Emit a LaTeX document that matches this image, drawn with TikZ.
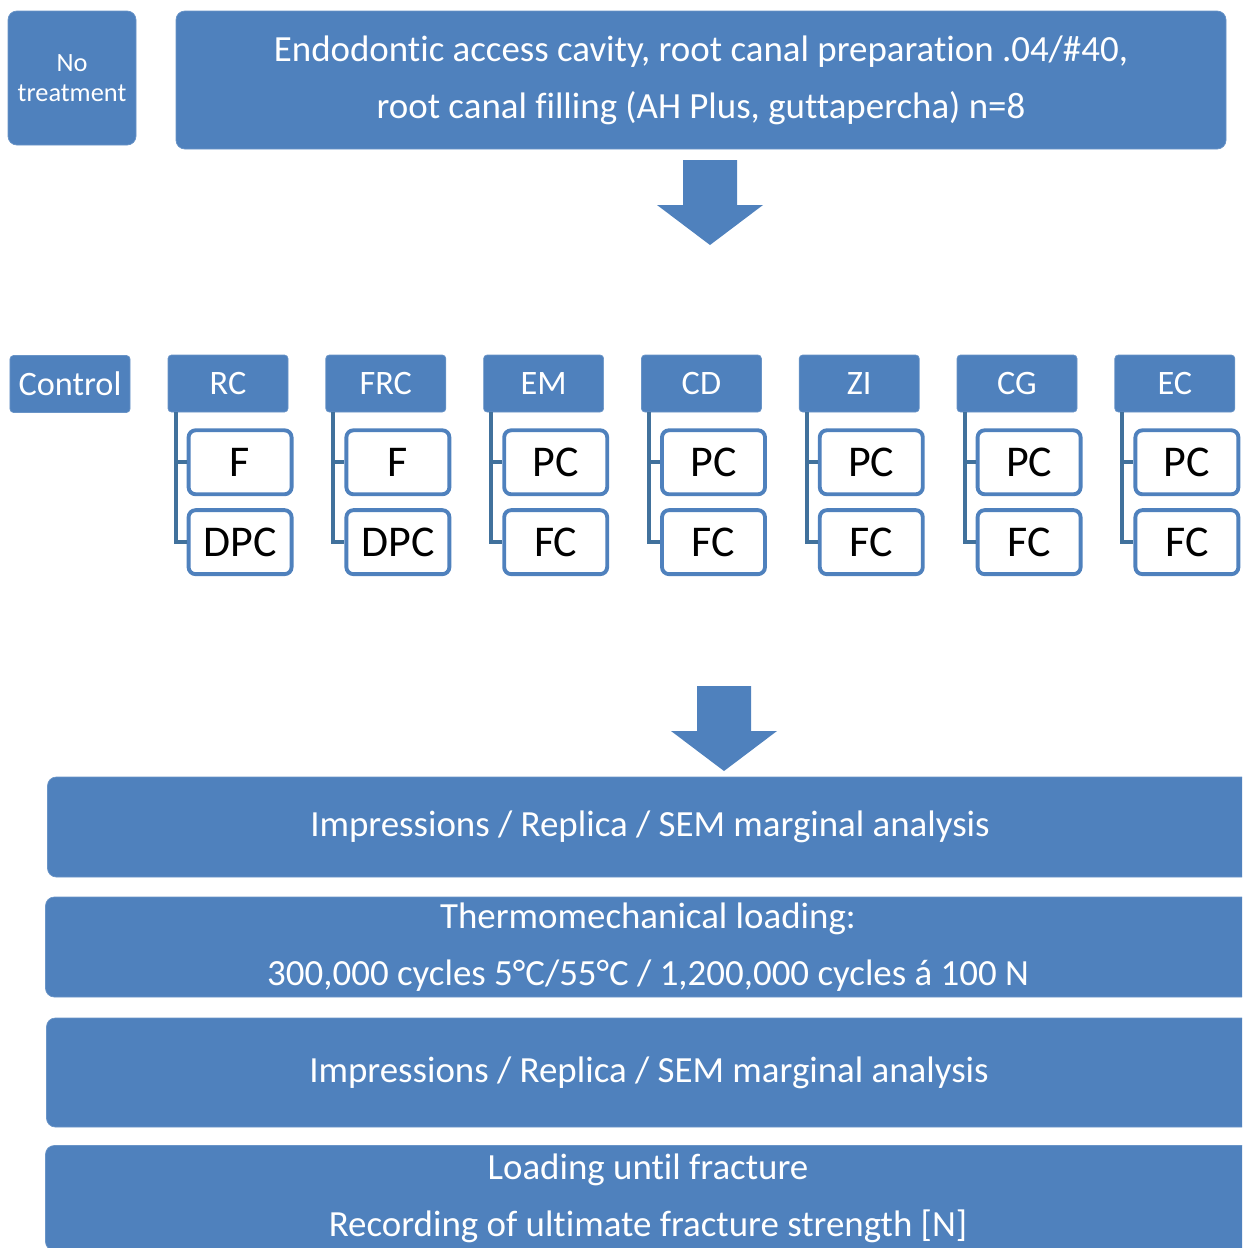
\documentclass[tikz,border=0pt]{standalone}
\usepackage{fontspec}
\setmainfont[Ligatures=NoCommon]{Carlito}
\usetikzlibrary{calc, positioning}
\definecolor{boxblue}{HTML}{4F81BD}
\definecolor{linkblue}{HTML}{41719C}

\begin{document}
\begin{tikzpicture}[
    bluebox/.style={rectangle, fill=boxblue, draw=boxblue!85!white, rounded corners=5pt, text=white, align=center, inner sep=0pt},
    groupbox/.style={bluebox, minimum width=2.4cm, minimum height=1.14cm, rounded corners=2pt, font=\fontsize{19.5}{23}\selectfont},
    subbox/.style={rectangle, draw=boxblue, line width=2.2pt, fill=white, rounded corners=4pt, minimum width=2.06cm, minimum height=1.28cm, inner sep=0pt, font=\fontsize{25}{30}\selectfont},
    stagebox/.style={bluebox, minimum width=24.1cm, font=\fontsize{21}{32.4}\selectfont},
    bracket/.style={draw=linkblue, line width=2.3pt},
    bigarrow/.style={fill=boxblue}
]
    \useasboundingbox (0,0) rectangle (24.84,-24.96);
    \clip (0,0) rectangle (24.84,-24.96);

    % Top row
    \node (notreat) [bluebox, minimum width=2.56cm, minimum height=2.68cm, font=\fontsize{15}{17}\selectfont] at (1.44,-1.56) {No\\treatment};
    \node (prep) [bluebox, minimum width=21.0cm, minimum height=2.76cm, font=\fontsize{21}{32.4}\selectfont] at (14.02,-1.60) {Endodontic access cavity, root canal preparation .04/\#40,\\root canal filling (AH Plus, guttapercha) n=8};

    % Arrow down
    \coordinate (arrowA) at (14.20,-3.20);
    \fill[bigarrow] (arrowA) ++(-0.54,0) -- ++(0,-0.90) -- ++(-0.52,0) -- ($(arrowA)+(0,-1.70)$) -- ++(1.06,0.80) -- ++(-0.52,0) -- ++(0,0.90) -- cycle;

    % Groups
    \node (control) [groupbox] at (1.40,-7.68) {Control};
    \node (rc) [groupbox] at (4.56,-7.67) {RC};
    \node (frc) [groupbox, right=0.742cm of rc] {FRC};
    \node (em) [groupbox, right=0.742cm of frc] {EM};
    \node (cd) [groupbox, right=0.742cm of em] {CD};
    \node (zi) [groupbox, right=0.742cm of cd] {ZI};
    \node (cg) [groupbox, right=0.742cm of zi] {CG};
    \node (ec) [groupbox, right=0.742cm of cg] {EC};

    % Subgroups
    \node (rcA) [subbox, below right=0.32cm and 0.38cm of rc.south west] {F};
    \node (rcB) [subbox, below=0.24cm of rcA] {DPC};
    \node (frcA) [subbox, below right=0.32cm and 0.38cm of frc.south west] {F};
    \node (frcB) [subbox, below=0.24cm of frcA] {DPC};
    \node (emA) [subbox, below right=0.32cm and 0.38cm of em.south west] {PC};
    \node (emB) [subbox, below=0.24cm of emA] {FC};
    \node (cdA) [subbox, below right=0.32cm and 0.38cm of cd.south west] {PC};
    \node (cdB) [subbox, below=0.24cm of cdA] {FC};
    \node (ziA) [subbox, below right=0.32cm and 0.38cm of zi.south west] {PC};
    \node (ziB) [subbox, below=0.24cm of ziA] {FC};
    \node (cgA) [subbox, below right=0.32cm and 0.38cm of cg.south west] {PC};
    \node (cgB) [subbox, below=0.24cm of cgA] {FC};
    \node (ecA) [subbox, below right=0.32cm and 0.38cm of ec.south west] {PC};
    \node (ecB) [subbox, below=0.24cm of ecA] {FC};

    % Brackets
    \draw[bracket] ([xshift=0.16cm, yshift=-0.04cm]rc.south west) |- (rcB.west);
    \draw[bracket] ([xshift=0.16cm]rc.south west) |- (rcA.west);
    \draw[bracket] ([xshift=0.16cm, yshift=-0.04cm]frc.south west) |- (frcB.west);
    \draw[bracket] ([xshift=0.16cm]frc.south west) |- (frcA.west);
    \draw[bracket] ([xshift=0.16cm, yshift=-0.04cm]em.south west) |- (emB.west);
    \draw[bracket] ([xshift=0.16cm]em.south west) |- (emA.west);
    \draw[bracket] ([xshift=0.16cm, yshift=-0.04cm]cd.south west) |- (cdB.west);
    \draw[bracket] ([xshift=0.16cm]cd.south west) |- (cdA.west);
    \draw[bracket] ([xshift=0.16cm, yshift=-0.04cm]zi.south west) |- (ziB.west);
    \draw[bracket] ([xshift=0.16cm]zi.south west) |- (ziA.west);
    \draw[bracket] ([xshift=0.16cm, yshift=-0.04cm]cg.south west) |- (cgB.west);
    \draw[bracket] ([xshift=0.16cm]cg.south west) |- (cgA.west);
    \draw[bracket] ([xshift=0.16cm, yshift=-0.04cm]ec.south west) |- (ecB.west);
    \draw[bracket] ([xshift=0.16cm]ec.south west) |- (ecA.west);

    % Arrow down
    \coordinate (arrowB) at (14.48,-13.72);
    \fill[bigarrow] (arrowB) ++(-0.54,0) -- ++(0,-0.90) -- ++(-0.52,0) -- ($(arrowB)+(0,-1.70)$) -- ++(1.06,0.80) -- ++(-0.52,0) -- ++(0,0.90) -- cycle;

    % Stages
    \node (replicaA) [stagebox, minimum height=2.0cm] at (13.00,-16.54) {Impressions / Replica / SEM marginal analysis};
    \node (loading) [stagebox, minimum height=2.0cm] at (12.96,-18.94) {Thermomechanical loading:\\300,000 cycles 5°C/55°C / 1,200,000 cycles á 100 N};
    \node (replicaB) [stagebox, minimum height=2.18cm] at (12.98,-21.45) {Impressions / Replica / SEM marginal analysis};
    \node (fracture) [stagebox, minimum height=2.1cm] at (12.96,-23.96) {Loading until fracture\\Recording of ultimate fracture strength [N]};
\end{tikzpicture}
\end{document}
